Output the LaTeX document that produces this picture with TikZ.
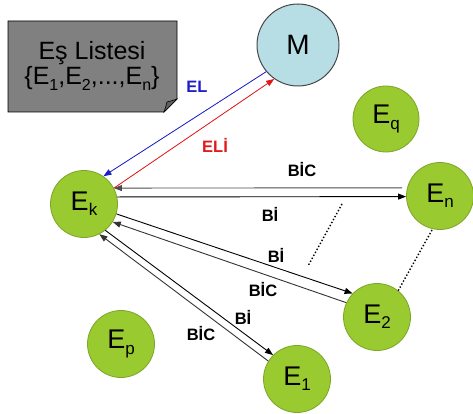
\documentclass[tikz,border=0pt]{standalone}
\usepackage{fontspec}
\setmainfont{Liberation Sans}
\usetikzlibrary{arrows.meta,calc}
\definecolor{egreen}{RGB}{153,202,48}
\definecolor{egreenb}{RGB}{125,165,40}
\definecolor{mblue}{RGB}{183,222,228}
\definecolor{mborder}{RGB}{70,70,70}
\definecolor{boxgray}{RGB}{128,128,128}
\definecolor{foldgray}{RGB}{96,96,96}
\definecolor{elblue}{RGB}{30,30,200}
\definecolor{elired}{RGB}{225,25,25}
\newcommand{\sbx}[1]{\raisebox{-0.2em}{\fontsize{17}{17}\selectfont #1}}
\newcommand{\sbl}[1]{\raisebox{-0.22em}{\fontsize{16}{16}\selectfont #1}}
\tikzset{
  ent/.style={circle,fill=egreen,draw=egreenb,line width=0.8pt,minimum size=67pt,inner sep=0pt,font=\fontsize{27}{28}\selectfont},
  msg/.style={font=\fontsize{16.5}{18}\selectfont\bfseries,inner sep=1pt},
  arr/.style={-{Triangle[length=8pt,width=6pt]},line width=0.9pt},
  dots/.style={dotted,line width=1.4pt}
}
\begin{document}
\begin{tikzpicture}[x=1pt,y=-1pt]
\useasboundingbox (0,0) rectangle (473,414);
% list box
\draw[fill=boxgray,draw=black,line width=0.8pt] (8,21) -- (177,21) -- (177,99) -- (164,112) -- (8,112) -- cycle;
\draw[fill=foldgray,draw=black,line width=0.6pt] (177,99) -- (164,112) .. controls (166,106) .. (167,102) .. controls (171,101) .. cycle;
\node[align=center,font=\fontsize{25}{25}\selectfont,inner sep=0pt] (list) at (92,66) {Eş Listesi\\\{E\sbl{1},E\sbl{2},...,E\sbl{n}\}};
% nodes
\node[circle,fill=mblue,draw=mborder,line width=1pt,minimum size=82pt,inner sep=0pt,font=\fontsize{28}{28}\selectfont] (M) at (298,45) {M};
\node[ent] (Ek) at (84,204) {E\sbx{k}};
\node[ent] (En) at (440,196) {E\sbx{n}};
\node[ent,minimum size=66pt] (Eq) at (386,119) {E\sbx{q}};
\node[ent] (E2) at (377,317) {E\sbx{2}};
\node[ent] (E1) at (297,379) {E\sbx{1}};
\node[ent] (Ep) at (121,344) {E\sbx{p}};
% M links
\draw[arr,draw=elblue,fill=elblue,line width=0.8pt] (M.220) -- (Ek.55);
\draw[arr,draw=elired,fill=elired,line width=0.8pt] (Ek.28) -- (M.235);
% En links
\draw[arr,draw=black!70,shorten <=5pt] (En.166) -- (Ek.28);
\draw[arr] (Ek.12) -- (En.181);
% E2 links
\draw[arr] (Ek.-17) -- (E2.136);
\draw[arr,draw=black!80] (E2.155) -- (Ek.-32);
% E1 links
\draw[arr] (Ek.-51) -- (E1.135);
\draw[arr,draw=black!80] (E1.148) -- (Ek.-63);
% dotted
\coordinate (d1a) at (342,204);
\coordinate (d1b) at (308,266);
\coordinate (d2a) at (432,230);
\coordinate (d2b) at (398,291);
\draw[dots] (d1a) -- (d1b);
\draw[dots] (d2a) -- (d2b);
% labels
\node[msg,text=elblue] (lEL) at (197,87) {EL};
\node[msg,text=elired] (lELI) at (215,145) {ELİ};
\node[msg] (l1) at (302,170) {BİC};
\node[msg] (l2) at (270,214) {Bİ};
\node[msg] (l3) at (276,255) {Bİ};
\node[msg] (l4) at (263,290) {BİC};
\node[msg] (l5) at (243,317) {Bİ};
\node[msg] (l6) at (201,334) {BİC};
\end{tikzpicture}
\end{document}
